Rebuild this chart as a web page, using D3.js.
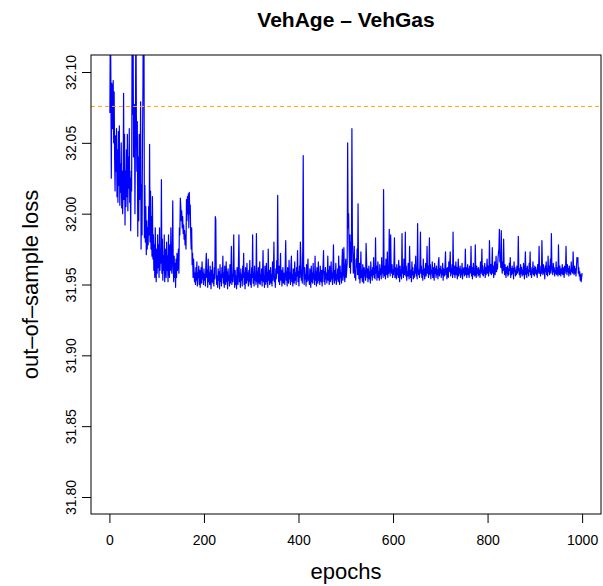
<!DOCTYPE html>
<html>
<head>
<meta charset="utf-8">
<script src="https://cdn.jsdelivr.net/npm/d3@7"></script>
<style>
  body { margin: 0; background: #fff; }
  svg { display: block; font-family: "Liberation Sans", Arial, sans-serif; }
</style>
</head>
<body>
<script>
// titre et axes
const chartTitle = "VehAge \u2013 VehGas";
const xLabel = "epochs";
const yLabel = "out\u2013of\u2013sample loss";
const xTicks = [0, 200, 400, 600, 800, 1000];
const yTicks = [31.80, 31.85, 31.90, 31.95, 32.00, 32.05, 32.10];
const yLimits = [31.80, 32.10];

// ligne pointillée (perte de référence)
const referenceLoss = 32.0757;

// perte hors échantillon, une valeur par epoch (1..1000)
const lossValues = [
  32.071, 32.140, 32.098, 32.025, 32.092, 32.088, 32.060, 32.094, 32.050, 32.086,
  32.040, 32.016, 32.055, 32.030, 32.060, 32.012, 32.045, 32.008, 32.058, 32.020,
  32.062, 32.006, 32.035, 32.015, 32.050, 32.004, 32.030, 32.000, 32.020, 32.085,
  32.010, 32.056, 31.992, 32.030, 32.005, 32.045, 32.012, 32.056, 32.002, 32.040,
  32.018, 32.060, 32.008, 32.025, 31.988, 32.030, 32.016, 32.130, 32.070, 32.140,
  32.040, 32.075, 32.077, 32.000, 32.050, 32.150, 32.070, 32.030, 32.065, 31.984,
  32.040, 31.995, 32.056, 32.010, 32.030, 32.079, 31.975, 32.020, 31.985, 32.050,
  32.090, 32.200, 32.150, 31.983, 32.020, 31.980, 32.005, 31.971, 31.995, 31.975,
  31.990, 31.978, 32.005, 31.985, 32.049, 31.980, 32.016, 31.975, 31.998, 31.970,
  32.012, 31.968, 31.985, 31.960, 31.978, 31.955, 31.990, 31.962, 31.952, 31.975,
  31.958, 31.985, 31.962, 31.978, 31.955, 31.990, 31.960, 31.975, 31.965, 32.024,
  31.958, 31.982, 31.953, 31.970, 31.960, 31.985, 31.952, 31.968, 31.975, 31.955,
  31.980, 31.960, 31.970, 31.952, 31.985, 31.962, 31.955, 31.978, 31.960, 31.990,
  31.965, 31.958, 31.975, 32.009, 31.962, 31.952, 31.970, 31.955, 31.965, 31.948,
  31.968, 31.955, 31.972, 31.960, 31.963, 31.975, 31.958, 31.990, 31.985, 32.011,
  32.005, 31.995, 32.002, 31.990, 31.998, 31.986, 31.992, 31.982, 31.988, 31.978,
  31.985, 31.975, 32.010, 31.995, 32.012, 32.000, 32.014, 31.990, 32.015, 32.000,
  32.006, 31.985, 31.975, 31.990, 31.964, 31.972, 31.955, 31.968, 31.960, 31.952,
  31.958, 31.950, 31.962, 31.953, 31.966, 31.949, 31.958, 31.955, 31.963, 31.950,
  31.960, 31.948, 31.955, 31.962, 31.951, 31.966, 31.954, 31.958, 31.950, 31.961,
  31.953, 31.957, 31.949, 31.964, 31.972, 31.955, 31.960, 31.948, 31.968, 31.952,
  31.958, 31.950, 31.963, 31.955, 31.947, 31.960, 31.952, 31.966, 31.951, 31.957,
  31.949, 31.962, 31.954, 31.998, 31.996, 31.958, 31.950, 31.956, 31.948, 31.961,
  31.953, 31.959, 31.947, 31.964, 31.952, 31.957, 31.949, 31.962, 31.955, 31.970,
  31.951, 31.958, 31.948, 31.963, 31.954, 31.950, 31.966, 31.952, 31.959, 31.947,
  31.961, 31.953, 31.956, 31.949, 31.964, 31.951, 31.958, 31.977, 31.950, 31.957,
  31.952, 31.963, 31.985, 31.954, 31.948, 31.960, 31.950, 31.956, 31.947, 31.962,
  31.955, 31.950, 31.966, 31.985, 31.952, 31.958, 31.948, 31.961, 31.953, 31.957,
  31.949, 31.963, 31.955, 31.972, 31.950, 31.958, 31.947, 31.962, 31.954, 31.951,
  31.965, 31.953, 31.958, 31.949, 31.960, 31.952, 31.967, 31.950, 31.957, 31.948,
  31.962, 31.955, 31.985, 31.951, 31.958, 31.949, 31.963, 31.953, 31.956, 31.950,
  31.986, 31.952, 31.959, 31.948, 31.962, 31.955, 31.951, 31.966, 31.950, 31.957,
  31.953, 31.961, 31.949, 31.958, 31.974, 31.952, 31.956, 31.948, 31.963, 31.954,
  31.950, 31.965, 31.952, 31.958, 31.948, 31.975, 31.953, 31.960, 31.950, 31.956,
  31.962, 31.951, 31.957, 31.949, 31.966, 31.953, 31.958, 31.980, 31.952, 31.956,
  31.948, 31.961, 31.954, 31.967, 31.958, 32.013, 31.960, 31.952, 31.963, 31.950,
  31.957, 31.972, 31.953, 31.960, 31.949, 31.956, 31.962, 31.951, 31.958, 31.954,
  31.950, 31.965, 31.981, 31.953, 31.959, 31.949, 31.962, 31.955, 31.951, 31.967,
  31.954, 31.958, 31.950, 31.963, 31.970, 31.952, 31.957, 31.949, 31.961, 31.955,
  31.951, 31.966, 31.953, 31.958, 31.950, 31.962, 31.956, 31.974, 31.952, 31.959,
  31.949, 31.963, 31.955, 31.980, 31.968, 31.953, 31.960, 31.951, 31.975, 32.041,
  31.958, 31.950, 31.962, 31.954, 31.957, 31.949, 31.964, 31.952, 31.958, 31.968,
  31.953, 31.956, 31.950, 31.961, 31.955, 31.948, 31.963, 31.952, 31.958, 31.951,
  31.965, 31.954, 31.957, 31.950, 31.970, 31.953, 31.959, 31.949, 31.962, 31.955,
  31.951, 31.966, 31.953, 31.958, 31.950, 31.963, 31.955, 31.952, 31.960, 31.949,
  31.957, 31.964, 31.974, 31.952, 31.959, 31.950, 31.962, 31.954, 31.958, 31.951,
  31.956, 31.970, 31.953, 31.960, 31.950, 31.963, 31.955, 31.952, 31.966, 31.954,
  31.958, 31.950, 31.962, 31.978, 31.955, 31.951, 31.960, 31.953, 31.965, 31.950,
  31.957, 31.954, 31.961, 31.952, 31.970, 31.956, 31.950, 31.963, 31.955, 31.958,
  31.951, 31.966, 31.975, 31.953, 31.959, 31.976, 31.957, 31.952, 31.962, 31.968,
  31.955, 31.960, 31.965, 32.050, 31.990, 32.000, 31.975, 31.962, 31.985, 31.958,
  31.980, 31.966, 32.060, 31.985, 31.970, 31.958, 31.963, 31.977, 31.955, 31.960,
  31.953, 31.968, 31.962, 31.975, 31.957, 32.007, 31.960, 31.954, 31.965, 31.951,
  31.958, 31.973, 31.955, 31.960, 31.952, 31.964, 31.957, 31.951, 31.962, 31.956,
  31.960, 31.953, 31.979, 31.967, 31.955, 31.961, 31.952, 31.958, 31.963, 31.954,
  31.959, 31.951, 31.966, 31.956, 31.960, 31.953, 31.962, 31.957, 31.969, 31.955,
  31.961, 31.954, 31.983, 31.958, 31.963, 31.953, 31.960, 31.966, 31.955, 31.959,
  31.953, 31.964, 31.957, 31.961, 31.954, 31.969, 31.958, 31.962, 31.955, 32.017,
  31.960, 31.956, 31.963, 31.954, 31.968, 31.959, 31.957, 31.973, 31.955, 31.961,
  31.958, 31.989, 31.965, 31.956, 31.985, 31.962, 31.958, 31.964, 31.955, 31.960,
  31.957, 31.966, 31.983, 31.955, 31.962, 31.958, 31.954, 31.964, 31.957, 31.961,
  31.955, 31.967, 31.958, 31.952, 31.963, 31.956, 31.960, 31.954, 31.986, 31.958,
  31.962, 31.955, 31.968, 31.957, 31.960, 31.987, 31.956, 31.963, 31.953, 31.959,
  31.956, 31.965, 31.958, 31.954, 31.977, 31.961, 31.955, 31.960, 31.952, 31.966,
  31.957, 31.962, 31.954, 31.959, 31.955, 31.964, 31.958, 31.970, 31.956, 31.961,
  31.954, 31.993, 31.962, 31.957, 31.960, 31.955, 31.966, 31.987, 31.958, 31.963,
  31.955, 31.960, 31.953, 31.968, 31.957, 31.961, 31.954, 31.959, 31.965, 31.956,
  31.960, 31.977, 31.958, 31.963, 31.955, 31.961, 31.983, 31.957, 31.964, 31.954,
  31.960, 31.958, 31.966, 31.955, 31.962, 31.957, 31.953, 31.965, 31.958, 31.961,
  31.955, 31.963, 31.957, 31.960, 31.954, 31.966, 31.969, 31.956, 31.961, 31.958,
  31.963, 31.955, 31.960, 31.957, 31.965, 31.953, 31.961, 31.958, 31.956, 31.964,
  31.973, 31.957, 31.961, 31.954, 31.962, 31.958, 31.955, 31.966, 31.959, 31.963,
  31.973, 31.956, 31.961, 31.958, 31.964, 31.955, 31.987, 31.960, 31.957, 31.963,
  31.955, 31.960, 31.966, 31.957, 31.962, 31.954, 31.959, 31.968, 31.956, 31.961,
  31.958, 31.963, 31.955, 31.960, 31.957, 31.965, 31.954, 31.961, 31.958, 31.962,
  31.956, 31.959, 31.975, 31.957, 31.962, 31.955, 31.960, 31.964, 31.957, 31.961,
  31.955, 31.963, 31.958, 31.960, 31.977, 31.956, 31.962, 31.954, 31.959, 31.965,
  31.957, 31.961, 31.956, 31.978, 31.960, 31.955, 31.963, 31.958, 31.961, 31.956,
  31.962, 31.957, 31.960, 31.955, 31.966, 31.958, 31.961, 31.975, 31.957, 31.963,
  31.956, 31.960, 31.958, 31.965, 31.955, 31.962, 31.957, 31.961, 31.968, 31.958,
  31.963, 31.956, 31.960, 31.981, 31.962, 31.958, 31.964, 31.957, 31.961, 31.976,
  31.958, 31.963, 31.955, 31.960, 31.966, 31.957, 31.962, 31.970, 31.959, 31.964,
  31.961, 31.968, 31.972, 31.975, 31.989, 31.966, 31.970, 31.962, 31.988, 31.963,
  31.958, 31.966, 31.960, 31.982, 31.962, 31.957, 31.964, 31.959, 31.955, 31.962,
  31.958, 31.963, 31.956, 31.961, 31.957, 31.965, 31.960, 31.969, 31.955, 31.961,
  31.957, 31.963, 31.958, 31.961, 31.954, 31.966, 31.959, 31.962, 31.956, 31.960,
  31.957, 31.963, 31.958, 31.960, 31.984, 31.962, 31.957, 31.961, 31.955, 31.964,
  31.958, 31.962, 31.956, 31.960, 31.957, 31.965, 31.959, 31.954, 31.962, 31.973,
  31.957, 31.961, 31.955, 31.963, 31.958, 31.960, 31.956, 31.965, 31.959, 31.973,
  31.957, 31.962, 31.955, 31.960, 31.958, 31.966, 31.957, 31.961, 31.956, 31.963,
  31.958, 31.962, 31.957, 31.960, 31.955, 31.964, 31.958, 31.961, 31.977, 31.958,
  31.963, 31.956, 31.960, 31.958, 31.981, 31.962, 31.957, 31.964, 31.958, 31.961,
  31.954, 31.963, 31.959, 31.966, 31.957, 31.961, 31.956, 31.970, 31.959, 31.963,
  31.957, 31.962, 31.968, 31.958, 31.986, 31.963, 31.960, 31.957, 31.965, 31.959,
  31.962, 31.956, 31.960, 31.958, 31.966, 31.957, 31.962, 31.959, 31.956, 31.978,
  31.960, 31.957, 31.963, 31.959, 31.956, 31.961, 31.958, 31.964, 31.957, 31.962,
  31.959, 31.955, 31.963, 31.958, 31.961, 31.977, 31.960, 31.957, 31.964, 31.959,
  31.961, 31.956, 31.963, 31.958, 31.960, 31.957, 31.966, 31.959, 31.962, 31.958,
  31.973, 31.960, 31.957, 31.963, 31.958, 31.961, 31.956, 31.962, 31.969, 31.966,
  31.969, 31.958, 31.962, 31.956, 31.959, 31.953, 31.957, 31.952, 31.955, 31.958
];

// Dimensions
const width = 603;
const height = 586;
const box = { left: 91, right: 601, top: 55, bottom: 514 };

const svg = d3.select("body").append("svg")
  .attr("width", width)
  .attr("height", height);

// comme R : on élargit les limites de 4% de chaque côté
const n = lossValues.length;
const xPad = 0.04 * (n - 1);
const yPad = 0.04 * (yLimits[1] - yLimits[0]);

const x = d3.scaleLinear()
  .domain([1 - xPad, n + xPad])
  .range([box.left, box.right]);

const y = d3.scaleLinear()
  .domain([yLimits[0] - yPad, yLimits[1] + yPad])
  .range([box.bottom, box.top]);

svg.append("defs").append("clipPath")
  .attr("id", "plot-clip")
  .append("rect")
  .attr("x", box.left)
  .attr("y", box.top)
  .attr("width", box.right - box.left)
  .attr("height", box.bottom - box.top);

// la courbe bleue
const line = d3.line()
  .x((d, i) => x(i + 1))
  .y(d => y(d));

svg.append("path")
  .datum(lossValues)
  .attr("clip-path", "url(#plot-clip)")
  .attr("fill", "none")
  .attr("stroke", "#0000ff")
  .attr("stroke-width", 1.2)
  .attr("stroke-linejoin", "round")
  .attr("d", line);

// ligne de référence pointillée
svg.append("line")
  .attr("x1", box.left)
  .attr("x2", box.right)
  .attr("y1", y(referenceLoss))
  .attr("y2", y(referenceLoss))
  .attr("stroke", "#ffa500")
  .attr("stroke-width", 1)
  .attr("stroke-dasharray", "4,3");

// cadre
svg.append("rect")
  .attr("x", box.left)
  .attr("y", box.top)
  .attr("width", box.right - box.left)
  .attr("height", box.bottom - box.top)
  .attr("fill", "none")
  .attr("stroke", "#000")
  .attr("stroke-width", 1);

// axe x
const xAxis = d3.axisBottom(x)
  .tickValues(xTicks)
  .tickSize(9)
  .tickPadding(12)
  .tickFormat(d3.format("d"));

svg.append("g")
  .attr("transform", `translate(0,${box.bottom})`)
  .call(xAxis)
  .call(g => g.select(".domain").remove())
  .call(g => g.selectAll("text").attr("font-size", 14).attr("fill", "#000").attr("font-family", null));

// axe y (labels tournés comme dans R)
const yAxis = d3.axisLeft(y)
  .tickValues(yTicks)
  .tickSize(9)
  .tickFormat(d3.format(".2f"));

svg.append("g")
  .attr("transform", `translate(${box.left},0)`)
  .call(yAxis)
  .call(g => g.select(".domain").remove())
  .call(g => g.selectAll("text")
    .attr("font-size", 14)
    .attr("fill", "#000")
    .attr("font-family", null)
    .attr("x", null)
    .attr("dy", null)
    .attr("text-anchor", "middle")
    .attr("transform", "translate(-15,0) rotate(-90)"));

// titres
svg.append("text")
  .attr("x", (box.left + box.right) / 2)
  .attr("y", 27)
  .attr("text-anchor", "middle")
  .attr("font-size", 21)
  .attr("font-weight", "bold")
  .text(chartTitle);

svg.append("text")
  .attr("x", (box.left + box.right) / 2)
  .attr("y", 579)
  .attr("text-anchor", "middle")
  .attr("font-size", 22)
  .text(xLabel);

svg.append("text")
  .attr("transform", `translate(38,${(box.top + box.bottom) / 2}) rotate(-90)`)
  .attr("text-anchor", "middle")
  .attr("font-size", 22)
  .text(yLabel);
</script>
</body>
</html>
